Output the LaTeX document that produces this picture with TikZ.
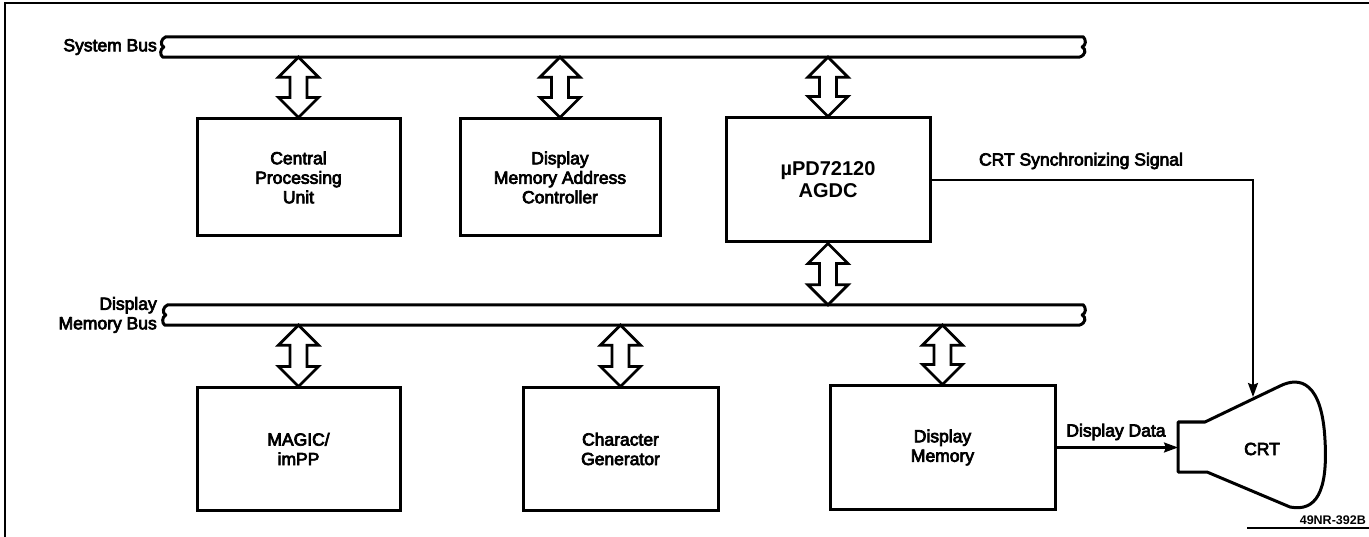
\documentclass[tikz,border=0pt]{standalone}
\usepackage{fontspec}
\setmainfont{Liberation Sans}
\newfontfamily\semib{Liberation Sans}[FakeBold=4]
\usetikzlibrary{calc,arrows.meta}
\newcommand\busoutline[1]{%
  \draw[busline] ([xshift=3pt]#1.north west) -- (#1.north east)
    .. controls +(3,3) and +(4,-2) .. ([xshift=-1pt]#1.east)
    .. controls +(4,2) and +(7,-2) .. ([xshift=-4pt]#1.south east)
    -- (#1.south west)
    .. controls +(-3,-2) and +(-4,2) .. ([xshift=1pt]#1.west)
    .. controls +(-4,-2) and +(-5,2) .. ([xshift=3pt]#1.north west) -- cycle;}
\begin{document}
\begin{tikzpicture}[x=1pt,y=-1pt,
  box/.style={draw,line width=3pt,align=center,inner sep=0pt,
    font=\semib\fontsize{17.5}{19.5}\selectfont},
  lbl/.style={inner sep=0pt,font=\semib\fontsize{17.5}{19.5}\selectfont},
  busarea/.style={inner sep=0pt,minimum height=20pt},
  busline/.style={line width=3pt,line join=round},
  dbl/.style={draw,line width=2.8pt,line join=miter,
    to path={let \p1=(\tikztostart), \p2=(\tikztotarget) in
      (\x1,\y1) -- (\x1+20pt,\y1-20pt) -- (\x1+8.5pt,\y1-20pt)
      -- (\x1+8.5pt,\y2+20pt) -- (\x1+20pt,\y2+20pt) -- (\x1,\y2)
      -- (\x1-20pt,\y2+20pt) -- (\x1-8.5pt,\y2+20pt)
      -- (\x1-8.5pt,\y1-20pt) -- (\x1-20pt,\y1-20pt) -- cycle}},
  sig/.style={line width=2.2pt,-{Stealth[length=14pt,width=10pt,inset=2pt]}}]
\useasboundingbox (0,0) rectangle (1369,537);
% frame
\draw[line width=2.4pt] (1369,3) -- (5,3) -- (5,537);
\draw[line width=1.4pt] (1247,528) -- (1369,528);
% buses
\node[busarea,minimum width=920pt] (sysbus) at (623,47) {};
\busoutline{sysbus}
\node[busarea,minimum width=918pt] (dmbus) at (624,315) {};
\busoutline{dmbus}
\node[lbl,anchor=east] (sysbuslbl) at (157,47) {System Bus};
\node[lbl,anchor=east,align=right] (dmbuslbl) at (157,315) {Display\\Memory Bus};
% boxes
\node[box,minimum width=203pt,minimum height=117pt] (cpu) at (298.5,177.5) {Central\\Processing\\Unit};
\node[box,minimum width=200pt,minimum height=117pt] (dmac) at (560,177.5) {Display\\Memory Address\\Controller};
\node[box,minimum width=204pt,minimum height=124pt,font=\bfseries\fontsize{20}{22}\selectfont] (agdc) at (828,180) {µPD72120\\AGDC};
\node[box,minimum width=203pt,minimum height=122pt] (magic) at (298.5,449) {MAGIC/\\imPP};
\node[box,minimum width=195pt,minimum height=122pt] (chargen) at (620.5,449) {Character\\Generator};
\node[box,minimum width=225pt,minimum height=123pt] (dmem) at (942.5,447.5) {Display\\Memory};
% double arrows
\draw[dbl] (sysbus.south -| cpu.north) to (cpu.north);
\draw[dbl] (sysbus.south -| dmac.north) to (dmac.north);
\draw[dbl] (sysbus.south -| agdc.north) to (agdc.north);
\draw[dbl] (agdc.south) to (dmbus.north -| agdc.south);
\draw[dbl] (dmbus.south -| magic.north) to (magic.north);
\draw[dbl] (dmbus.south -| chargen.north) to (chargen.north);
\draw[dbl] (dmbus.south -| dmem.north) to (dmem.north);
% CRT
\draw[line width=3pt,line join=round]
  (1178,422) -- (1205,422) -- (1280,386)
  .. controls (1300,376) and (1322,382) .. (1325,440)
  .. controls (1328,492) and (1316,512) .. (1290,507)
  -- (1207,472) -- (1178,472) -- cycle;
\node[lbl] (crt) at (1262,449) {CRT};
\coordinate (crttop) at (1253,397);
\coordinate (crtneck) at (1178,447.5);
% signals
\draw[sig] (agdc.east) -| (crttop);
\node[lbl] (synclbl) at (1081,161) {CRT Synchronizing Signal};
\draw[sig] (dmem.east) -- (crtneck);
\node[lbl] (ddlbl) at (1116,432) {Display Data};
\node[inner sep=0pt,anchor=east,font=\bfseries\fontsize{12.5}{14}\selectfont] (ref) at (1366,520) {49NR-392B};
\end{tikzpicture}
\end{document}
